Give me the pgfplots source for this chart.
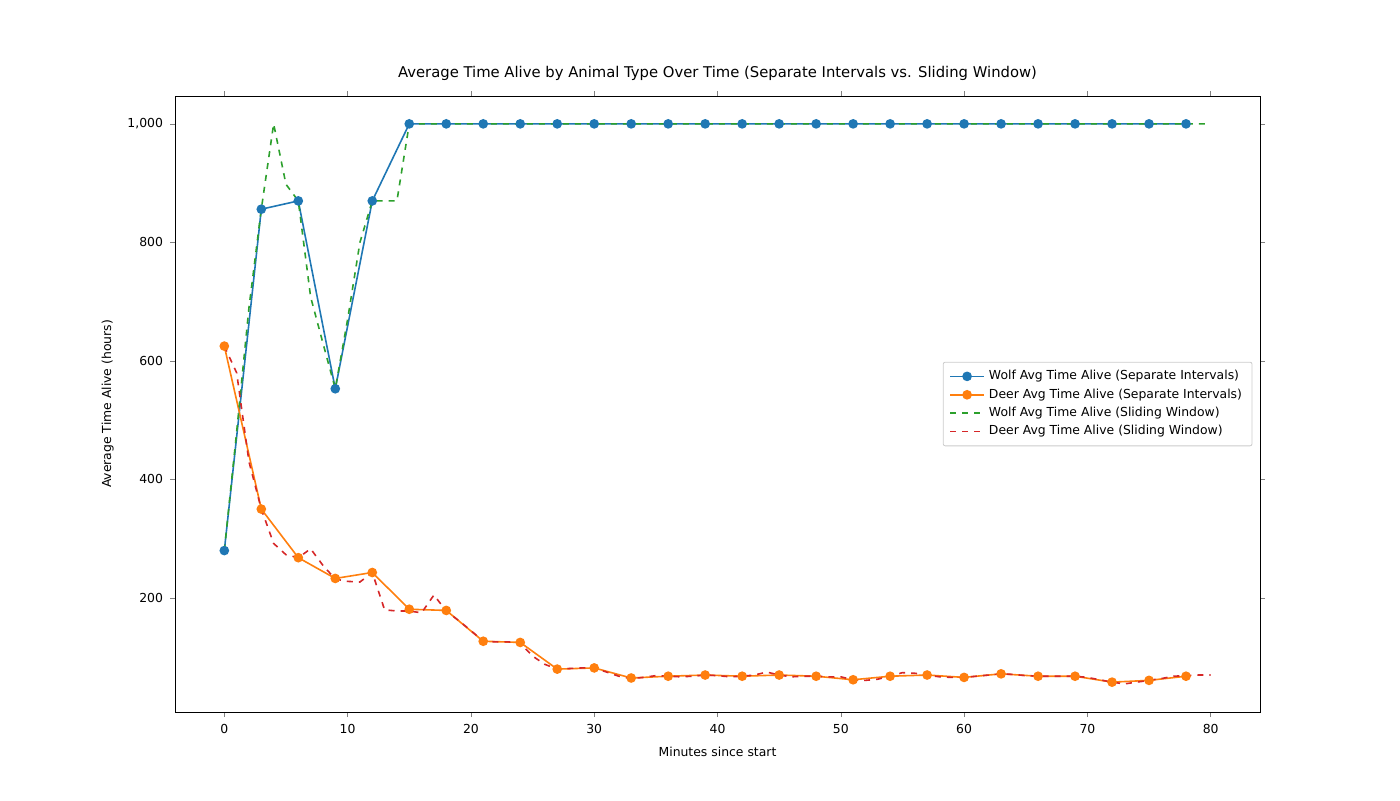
\documentclass[border=0pt]{standalone}
\usepackage{pgfplots}
\pgfplotsset{compat=1.18}
\usepackage{fontspec}
\setmainfont{DejaVu Sans}
\definecolor{c1}{HTML}{1F77B4}
\definecolor{c2}{HTML}{FF7F0E}
\definecolor{c3}{HTML}{2CA02C}
\definecolor{c4}{HTML}{D62728}
\begin{document}
\begin{tikzpicture}
\useasboundingbox (-87.5pt,-44pt) rectangle (612.5pt,356pt);
\begin{axis}[at={(0,0)},anchor=south west,scale only axis,width=542.5pt,height=308pt,
 xmin=-4,xmax=84,ymin=7.6,ymax=1047,
 xtick={0,10,...,80},ytick={200,400,600,800,1000},
 tick label style={font=\fontsize{6.2}{7}\selectfont},
 /pgf/number format/assume math mode=true,
 label style={font=\fontsize{6.2}{7}\selectfont},
 xlabel={Minutes since start},ylabel={Average Time Alive (hours)},
 title={Average Time Alive by Animal Type Over Time (Separate Intervals vs. Sliding Window)},
 title style={font=\fontsize{7.4}{9}\selectfont,yshift=-2pt},
 tick align=outside,major tick length=2.5pt,
 legend style={font=\fontsize{6.2}{8}\selectfont,at={(0.993,0.5)},anchor=east,draw=black!20,rounded corners=1pt,row sep=-1pt},
 legend cell align=left]
\addplot[c1,thick,mark=*,mark size=2pt] coordinates {(0,280)(3,856)(6,870)(9,553)(12,870)(15,1000)(18,1000)(21,1000)(24,1000)(27,1000)(30,1000)(33,1000)(36,1000)(39,1000)(42,1000)(45,1000)(48,1000)(51,1000)(54,1000)(57,1000)(60,1000)(63,1000)(66,1000)(69,1000)(72,1000)(75,1000)(78,1000)};
\addlegendentry{Wolf Avg Time Alive (Separate Intervals)}
\addplot[c2,thick,mark=*,mark size=2pt] coordinates {(0,625)(3,350)(6,268)(9,233)(12,243)(15,181)(18,179)(21,127)(24,125)(27,80)(30,82)(33,65)(36,68)(39,70)(42,68)(45,70)(48,68)(51,62)(54,68)(57,70)(60,66)(63,72)(66,68)(69,68)(72,58)(75,61)(78,68)};
\addlegendentry{Deer Avg Time Alive (Separate Intervals)}
\addplot[c3,thick,dashed] coordinates {(0,280)(1,480)(2,690)(3,856)(4,1000)(5,898)(6,870)(7,708)(8,630)(9,553)(10,670)(11,800)(12,870)(13,870)(14,870)(15,1000)(80,1000)};
\addlegendentry{Wolf Avg Time Alive (Sliding Window)}
\addplot[c4,thick,dashed] coordinates {(0,625)(1,580)(2,430)(3,350)(4,292)(5,273)(6,268)(7,283)(8,255)(9,232)(10,228)(11,227)(12,243)(13,180)(14,178)(15,178)(16,175)(17,205)(18,178)(19,162)(20,145)(21,127)(22,126)(23,126)(24,124)(25,102)(26,88)(27,80)(28,81)(29,82)(30,82)(31,75)(32,68)(33,64)(34,66)(35,69)(36,68)(37,67)(38,68)(39,70)(40,69)(41,67)(42,68)(43,70)(44,75)(45,70)(46,67)(47,68)(48,68)(49,67)(50,67)(51,62)(52,61)(53,63)(54,68)(55,74)(56,73)(57,70)(58,67)(59,66)(60,66)(61,68)(62,70)(63,72)(64,71)(65,69)(66,68)(67,68)(68,68)(69,68)(70,66)(71,62)(72,58)(73,55)(74,58)(75,61)(76,64)(77,68)(78,69)(79,70)(80,70)};
\addlegendentry{Deer Avg Time Alive (Sliding Window)}
\end{axis}
\end{tikzpicture}
\end{document}
